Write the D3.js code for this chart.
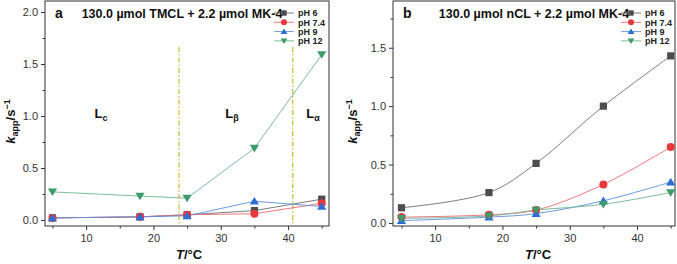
<!DOCTYPE html>
<html>
<head>
<meta charset="utf-8">
<script src="https://cdn.jsdelivr.net/npm/d3@7"></script>
<style>
  body { margin: 0; background: #fff; }
  svg { font-family: "Liberation Sans", Arial, sans-serif; }
</style>
</head>
<body>
<svg id="chart" width="677" height="264"></svg>
<script>
// temperatures (°C)
const temps = [5, 18, 25, 35, 45];
const seriesNames = ["pH 6", "pH 7.4", "pH 9", "pH 12"];

// panel a: TMCL
const aPH6 = [0.02, 0.03, 0.05, 0.09, 0.20];
const aPH74 = [0.02, 0.03, 0.05, 0.06, 0.16];
const aPH9 = [0.02, 0.03, 0.04, 0.18, 0.13];
const aPH12 = [0.27, 0.23, 0.21, 0.69, 1.59];

// panel b: nCL
const bPH6 = [0.13, 0.26, 0.51, 1.00, 1.43];
const bPH74 = [0.05, 0.07, 0.11, 0.33, 0.65];
const bPH9 = [0.02, 0.05, 0.08, 0.19, 0.35];
const bPH12 = [0.04, 0.06, 0.11, 0.16, 0.26];

const xTicks = [10, 20, 30, 40];
const xMinor = [5, 15, 25, 35, 45];
const aYTicks = [0, 0.5, 1.0, 1.5, 2.0];
const bYTicks = [0, 0.5, 1.0, 1.5];
const phaseLines = [23.8, 40.7];

const markerColor = ["#4d4d4d", "#e8383d", "#2b6fd3", "#3d9c69"];
const lineColor = ["#6e6e6e", "#ec6a6e", "#5b8fdc", "#6db592"];
const symbols = ["square", "circle", "up", "down"];

const svg = d3.select("#chart");

function drawPanel(opt) {
  const { left, right, top, bottom } = opt;
  const x = d3.scaleLinear().domain(opt.xDomain).range([left, right]);
  const y = d3.scaleLinear().domain(opt.yDomain).range([bottom, top]);
  const g = svg.append("g");

  // frame
  g.append("rect")
    .attr("x", left).attr("y", top)
    .attr("width", right - left).attr("height", bottom - top)
    .attr("fill", "none").attr("stroke", "#333").attr("stroke-width", 1);

  // axes
  const ax = g.append("g").attr("transform", `translate(0,${bottom})`)
    .call(d3.axisBottom(x).tickValues(xTicks).tickSize(4).tickPadding(4).tickFormat(d3.format("d")));
  const axm = g.append("g").attr("transform", `translate(0,${bottom})`)
    .call(d3.axisBottom(x).tickValues(xMinor).tickSize(2.5).tickFormat(""));
  const ay = g.append("g").attr("transform", `translate(${left},0)`)
    .call(d3.axisLeft(y).tickValues(opt.yTicks).tickSize(4).tickPadding(3).tickFormat(d3.format(".1f")));
  const yMinor = d3.range(0.25, opt.yDomain[1], 0.5);
  const aym = g.append("g").attr("transform", `translate(${left},0)`)
    .call(d3.axisLeft(y).tickValues(yMinor).tickSize(2.5).tickFormat(""));
  [ax, axm, ay, aym].forEach(a => {
    a.select(".domain").remove();
    a.selectAll("line").attr("stroke", "#333");
    a.selectAll("text").attr("fill", "#333").style("font-size", "11px");
  });

  // phase boundaries
  if (opt.phases) {
    opt.phases.forEach(v => {
      g.append("line")
        .attr("x1", x(v)).attr("x2", x(v))
        .attr("y1", 47).attr("y2", bottom)
        .attr("stroke", "#c2ad00").attr("stroke-width", 1)
        .attr("stroke-dasharray", "5,2,1.5,2");
    });
    opt.phaseLabels.forEach(p => {
      const t = g.append("text").attr("x", p.x).attr("y", 118)
        .attr("text-anchor", "middle").style("font-size", "13px").style("font-weight", "bold").attr("fill", "#111");
      t.append("tspan").text("L");
      t.append("tspan").attr("dy", 3).style("font-size", "9px").text(p.sub);
    });
  }

  // series
  const line = d3.line().x((d, i) => x(temps[i])).y(d => y(d)).curve(opt.curve);
  opt.series.forEach((vals, k) => {
    g.append("path").datum(vals)
      .attr("d", line)
      .attr("fill", "none").attr("stroke", lineColor[k]).attr("stroke-width", 0.9);
  });
  opt.series.forEach((vals, k) => {
    vals.forEach((v, i) => drawMarker(g, x(temps[i]), y(v), k));
  });

  // panel letter and title
  g.append("text").attr("x", left + 10).attr("y", top + 17)
    .style("font-size", "14px").style("font-weight", "bold").attr("fill", "#111").text(opt.letter);
  g.append("text").attr("x", opt.titleX).attr("y", top + 17)
    .attr("text-anchor", "middle")
    .style("font-size", "12.5px").style("font-weight", "bold").attr("fill", "#111").text(opt.title);

  // legend
  seriesNames.forEach((name, k) => {
    const ly = top + 12 + k * 9.3;
    g.append("line").attr("x1", opt.legendX).attr("x2", opt.legendX + 20)
      .attr("y1", ly).attr("y2", ly).attr("stroke", lineColor[k]).attr("stroke-width", 0.9);
    drawMarker(g, opt.legendX + 10, ly, k, 0.75);
    g.append("text").attr("x", opt.legendX + 24).attr("y", ly + 3.2)
      .style("font-size", "9px").style("font-weight", "bold").attr("fill", "#222").text(name);
  });

  // axis labels
  const yl = g.append("text")
    .attr("transform", `translate(${opt.yLabelX},${(top + bottom) / 2 + 8}) rotate(-90)`)
    .attr("text-anchor", "middle").style("font-size", "13px").style("font-weight", "bold").attr("fill", "#111");
  yl.append("tspan").style("font-style", "italic").text("k");
  yl.append("tspan").attr("dy", 3).style("font-size", "9px").text("app");
  yl.append("tspan").attr("dy", -3).text("/s");
  yl.append("tspan").attr("dy", -5).style("font-size", "9px").text("−1");

  const xl = g.append("text").attr("x", opt.xLabelX).attr("y", 259)
    .attr("text-anchor", "middle").style("font-size", "13px").style("font-weight", "bold").attr("fill", "#111");
  xl.append("tspan").style("font-style", "italic").text("T");
  xl.append("tspan").text("/°C");
}

function drawMarker(g, cx, cy, k, s = 1) {
  const c = markerColor[k];
  if (symbols[k] === "square") {
    g.append("rect").attr("x", cx - 3.6 * s).attr("y", cy - 3.6 * s)
      .attr("width", 7.2 * s).attr("height", 7.2 * s).attr("fill", c);
  } else if (symbols[k] === "circle") {
    g.append("circle").attr("cx", cx).attr("cy", cy).attr("r", 4 * s).attr("fill", c);
  } else {
    const h = 4.2 * s, dir = symbols[k] === "up" ? 1 : -1;
    g.append("path")
      .attr("d", `M${cx},${cy - dir * h} L${cx + h * 1.1},${cy + dir * h * 0.8} L${cx - h * 1.1},${cy + dir * h * 0.8} Z`)
      .attr("fill", c);
  }
}

drawPanel({
  left: 45, right: 329, top: 1, bottom: 226,
  xDomain: [3.89, 46.08], yDomain: [-0.058, 2.106],
  yTicks: aYTicks,
  series: [aPH6, aPH74, aPH9, aPH12],
  curve: d3.curveLinear,
  phases: phaseLines,
  phaseLabels: [{ x: 101, sub: "c" }, { x: 232, sub: "β" }, { x: 313, sub: "α" }],
  letter: "a", title: "130.0 µmol TMCL + 2.2 µmol MK-4", titleX: 182,
  legendX: 274, yLabelX: 15, xLabelX: 189
});

drawPanel({
  left: 393, right: 675, top: 1, bottom: 226,
  xDomain: [3.74, 45.64], yDomain: [-0.026, 1.90],
  yTicks: bYTicks,
  series: [bPH6, bPH74, bPH9, bPH12],
  curve: d3.curveCatmullRom.alpha(0.5),
  letter: "b", title: "130.0 µmol nCL + 2.2 µmol MK-4", titleX: 534,
  legendX: 621, yLabelX: 357, xLabelX: 538
});
</script>
</body>
</html>
